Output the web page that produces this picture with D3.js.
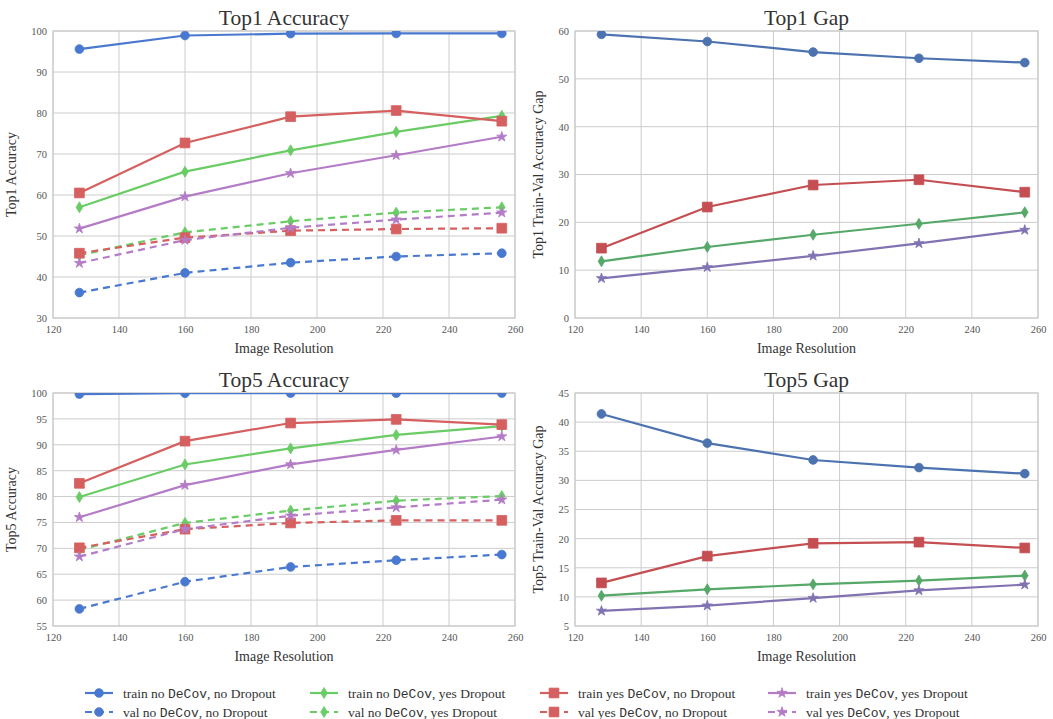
<!DOCTYPE html>
<html>
<head>
<meta charset="utf-8">
<title>DeCov resolution</title>
<script src="https://cdn.jsdelivr.net/npm/d3@7"></script>
<style>
  body { margin: 0; background: #fff; }
  text { font-family: "Liberation Serif", "DejaVu Serif", serif; }
  .tick text { fill: #555; font-size: 10.5px; font-family: "Liberation Serif", serif; }
  .grid line { stroke: #cccccc; stroke-width: 1; }
  .mono { font-family: "Liberation Mono", "DejaVu Sans Mono", monospace; font-size: 13px; }
</style>
</head>
<body>
<svg id="chart" width="1053" height="719"></svg>
<script>
// x values
var resolutions = [128, 160, 192, 224, 256];
var xTicks = [120, 140, 160, 180, 200, 220, 240, 260];

// Top1 accuracy (train / val) for each setting
var top1TrainBase  = [95.6, 98.9, 99.35, 99.4, 99.4];
var top1ValBase    = [36.2, 41.0, 43.5, 45.0, 45.8];
var top1TrainDrop  = [57.0, 65.7, 70.9, 75.4, 79.3];
var top1ValDrop    = [45.3, 50.9, 53.6, 55.7, 57.0];
var top1TrainDecov = [60.5, 72.7, 79.1, 80.6, 78.0];
var top1ValDecov   = [45.8, 49.6, 51.3, 51.7, 51.9];
var top1TrainBoth  = [51.8, 59.6, 65.3, 69.7, 74.2];
var top1ValBoth    = [43.4, 49.0, 52.0, 54.0, 55.7];

// Top1 train-val gap
var top1GapBase  = [59.3, 57.8, 55.6, 54.3, 53.4];
var top1GapDrop  = [11.85, 14.85, 17.4, 19.7, 22.1];
var top1GapDecov = [14.6, 23.2, 27.8, 28.9, 26.3];
var top1GapBoth  = [8.3, 10.6, 13.0, 15.6, 18.4];

// Top5 accuracy
var top5TrainBase  = [99.8, 99.95, 99.97, 99.98, 99.98];
var top5ValBase    = [58.3, 63.55, 66.4, 67.7, 68.8];
var top5TrainDrop  = [79.9, 86.2, 89.3, 91.9, 93.6];
var top5ValDrop    = [69.7, 74.9, 77.3, 79.2, 80.1];
var top5TrainDecov = [82.55, 90.7, 94.2, 94.9, 93.9];
var top5ValDecov   = [70.1, 73.7, 74.9, 75.4, 75.4];
var top5TrainBoth  = [76.0, 82.2, 86.2, 89.0, 91.6];
var top5ValBoth    = [68.4, 73.7, 76.3, 77.9, 79.4];

// Top5 train-val gap
var top5GapBase  = [41.4, 36.4, 33.5, 32.2, 31.15];
var top5GapDrop  = [10.2, 11.3, 12.15, 12.8, 13.65];
var top5GapDecov = [12.4, 17.0, 19.2, 19.4, 18.4];
var top5GapBoth  = [7.6, 8.5, 9.8, 11.1, 12.1];

var top1AccTicks = [30, 40, 50, 60, 70, 80, 90, 100];
var top1GapTicks = [0, 10, 20, 30, 40, 50, 60];
var top5AccTicks = [55, 60, 65, 70, 75, 80, 85, 90, 95, 100];
var top5GapTicks = [5, 10, 15, 20, 25, 30, 35, 40, 45];

// seaborn muted (accuracy) and deep (gap) palettes
var muted = {base: "#4878CF", drop: "#6ACC65", decov: "#D65F5F", both: "#B47CC7"};
var deep  = {base: "#4C72B0", drop: "#55A868", decov: "#C44E52", both: "#8172B2"};
var markerOf = {base: "circle", drop: "diamond", decov: "square", both: "star"};

var svg = d3.select("#chart");

function markerPath(kind) {
  if (kind == "circle") return d3.symbol(d3.symbolCircle, 60)();
  if (kind == "square") return d3.symbol(d3.symbolSquare, 95)();
  if (kind == "star") return d3.symbol(d3.symbolStar, 32)();
  // thin diamond
  return "M0,-5.5L3.3,0L0,5.5L-3.3,0Z";
}

var clipId = 0;
function drawPanel(cfg) {
  var g = svg.append("g");
  var x = d3.scaleLinear().domain([120, 260]).range([cfg.left, cfg.right]);
  var y = d3.scaleLinear().domain(cfg.yDomain).range([cfg.bottom, cfg.top]);

  // grid
  var grid = g.append("g").attr("class", "grid");
  grid.selectAll(".vx").data(xTicks).enter().append("line")
    .attr("x1", x).attr("x2", x).attr("y1", cfg.top).attr("y2", cfg.bottom);
  grid.selectAll(".hy").data(cfg.yTicks).enter().append("line")
    .attr("y1", y).attr("y2", y).attr("x1", cfg.left).attr("x2", cfg.right);
  g.append("rect").attr("x", cfg.left).attr("y", cfg.top)
    .attr("width", cfg.right - cfg.left).attr("height", cfg.bottom - cfg.top)
    .attr("fill", "none").attr("stroke", "#cccccc").attr("stroke-width", 1.2);

  // axes (labels only)
  var xa = g.append("g").attr("transform", "translate(0," + cfg.bottom + ")")
    .call(d3.axisBottom(x).tickValues(xTicks).tickSize(0).tickPadding(8));
  xa.select(".domain").remove();
  var ya = g.append("g").attr("transform", "translate(" + cfg.left + ",0)")
    .call(d3.axisLeft(y).tickValues(cfg.yTicks).tickSize(0).tickPadding(6));
  ya.select(".domain").remove();
  xa.attr("font-family", null).attr("font-size", null);
  ya.attr("font-family", null).attr("font-size", null);

  g.append("text").attr("x", (cfg.left + cfg.right) / 2).attr("y", cfg.top - 6)
    .attr("text-anchor", "middle").attr("font-size", 21.5).attr("fill", "#333")
    .text(cfg.title);
  g.append("text").attr("x", (cfg.left + cfg.right) / 2).attr("y", cfg.bottom + 35)
    .attr("text-anchor", "middle").attr("font-size", 14).attr("fill", "#333")
    .text("Image Resolution");
  g.append("text")
    .attr("transform", "translate(" + cfg.ylabelX + "," + (cfg.top + cfg.bottom) / 2 + ") rotate(-90)")
    .attr("text-anchor", "middle").attr("font-size", 14).attr("fill", "#333")
    .text(cfg.ylabel);

  clipId++;
  svg.append("clipPath").attr("id", "clip" + clipId).append("rect")
    .attr("x", cfg.left).attr("y", cfg.top)
    .attr("width", cfg.right - cfg.left).attr("height", cfg.bottom - cfg.top);
  var plot = g.append("g").attr("clip-path", "url(#clip" + clipId + ")");

  var line = d3.line().x(function(d, i) { return x(resolutions[i]); }).y(function(d) { return y(d); });
  cfg.series.forEach(function(s) {
    plot.append("path").attr("d", line(s.values)).attr("fill", "none")
      .attr("stroke", s.color).attr("stroke-width", 2.2)
      .attr("stroke-dasharray", s.dashed ? "7,5" : null);
    plot.selectAll(null).data(s.values).enter().append("path")
      .attr("d", markerPath(s.marker))
      .attr("transform", function(d, i) { return "translate(" + x(resolutions[i]) + "," + y(d) + ")"; })
      .attr("fill", s.color).attr("stroke", s.color).attr("stroke-width", 0.8);
  });
}

function accSeries(trainBase, valBase, trainDrop, valDrop, trainDecov, valDecov, trainBoth, valBoth) {
  return [
    {values: trainBase, color: muted.base, marker: markerOf.base},
    {values: valBase, color: muted.base, marker: markerOf.base, dashed: true},
    {values: trainDrop, color: muted.drop, marker: markerOf.drop},
    {values: valDrop, color: muted.drop, marker: markerOf.drop, dashed: true},
    {values: trainDecov, color: muted.decov, marker: markerOf.decov},
    {values: valDecov, color: muted.decov, marker: markerOf.decov, dashed: true},
    {values: trainBoth, color: muted.both, marker: markerOf.both},
    {values: valBoth, color: muted.both, marker: markerOf.both, dashed: true}
  ];
}
function gapSeries(base, drop, decov, both) {
  return [
    {values: base, color: deep.base, marker: markerOf.base},
    {values: drop, color: deep.drop, marker: markerOf.drop},
    {values: decov, color: deep.decov, marker: markerOf.decov},
    {values: both, color: deep.both, marker: markerOf.both}
  ];
}

drawPanel({title: "Top1 Accuracy", ylabel: "Top1 Accuracy", left: 53, right: 515, top: 31, bottom: 318,
  ylabelX: 16, yDomain: [30, 100], yTicks: top1AccTicks,
  series: accSeries(top1TrainBase, top1ValBase, top1TrainDrop, top1ValDrop, top1TrainDecov, top1ValDecov, top1TrainBoth, top1ValBoth)});
drawPanel({title: "Top1 Gap", ylabel: "Top1 Train-Val Accuracy Gap", left: 575, right: 1038, top: 31, bottom: 318,
  ylabelX: 543, yDomain: [0, 60], yTicks: top1GapTicks,
  series: gapSeries(top1GapBase, top1GapDrop, top1GapDecov, top1GapBoth)});
drawPanel({title: "Top5 Accuracy", ylabel: "Top5 Accuracy", left: 53, right: 515, top: 393, bottom: 626,
  ylabelX: 16, yDomain: [55, 100], yTicks: top5AccTicks,
  series: accSeries(top5TrainBase, top5ValBase, top5TrainDrop, top5ValDrop, top5TrainDecov, top5ValDecov, top5TrainBoth, top5ValBoth)});
drawPanel({title: "Top5 Gap", ylabel: "Top5 Train-Val Accuracy Gap", left: 575, right: 1038, top: 393, bottom: 626,
  ylabelX: 543, yDomain: [5, 45], yTicks: top5GapTicks,
  series: gapSeries(top5GapBase, top5GapDrop, top5GapDecov, top5GapBoth)});

// legend
var legendKeys = ["base", "drop", "decov", "both"];
var legendText = {
  base: ["no ", ", no Dropout"], drop: ["no ", ", yes Dropout"],
  decov: ["yes ", ", no Dropout"], both: ["yes ", ", yes Dropout"]
};
var legendX = [85, 310, 540, 768];
var legendRows = [{pre: "train ", y: 693, dashed: false}, {pre: "val ", y: 712, dashed: true}];
var lg = svg.append("g");
legendKeys.forEach(function(k, ci) {
  legendRows.forEach(function(r) {
    var x0 = legendX[ci];
    lg.append("line").attr("x1", x0).attr("x2", x0 + 28).attr("y1", r.y).attr("y2", r.y)
      .attr("stroke", muted[k]).attr("stroke-width", 2.2)
      .attr("stroke-dasharray", r.dashed ? "7,5" : null);
    lg.append("path").attr("d", markerPath(markerOf[k]))
      .attr("transform", "translate(" + (x0 + 14) + "," + r.y + ")")
      .attr("fill", muted[k]).attr("stroke", muted[k]).attr("stroke-width", 0.8);
    var t = lg.append("text").attr("x", x0 + 38).attr("y", r.y + 4.5)
      .attr("font-size", 13.5).attr("fill", "#333");
    t.append("tspan").text(r.pre + legendText[k][0]);
    t.append("tspan").attr("class", "mono").text("DeCov");
    t.append("tspan").text(legendText[k][1]);
  });
});
</script>
</body>
</html>
